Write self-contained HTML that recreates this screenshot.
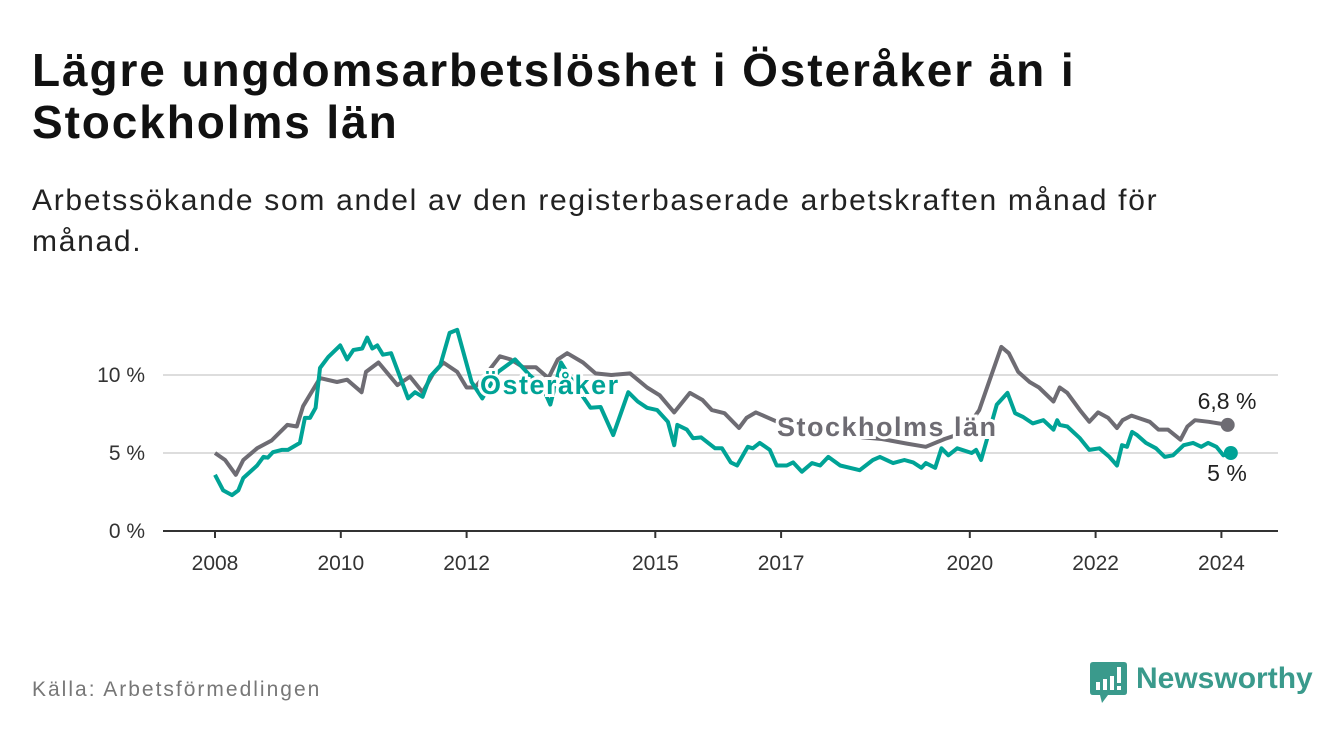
<!DOCTYPE html>
<html><head><meta charset="utf-8"><style>
body{margin:0;width:1340px;height:734px;background:#fff;font-family:"Liberation Sans",sans-serif;overflow:hidden;position:relative}
#title{position:absolute;left:32px;top:44px;font-size:46px;letter-spacing:1.9px;font-weight:bold;line-height:52px;color:#111;width:1300px;white-space:nowrap}
#sub{position:absolute;left:32px;top:180px;font-size:30px;letter-spacing:1.7px;line-height:41px;color:#222;width:1300px;white-space:nowrap}
#src{position:absolute;left:32px;top:678px;font-size:21px;letter-spacing:2px;color:#777}
</style></head><body>
<div id="title">Lägre ungdomsarbetslöshet i Österåker än i<br>Stockholms län</div>
<div id="sub">Arbetssökande som andel av den registerbaserade arbetskraften månad för<br>månad.</div>
<svg id="chart" width="1340" height="734" style="position:absolute;left:0;top:0"></svg>
<div id="src">Källa: Arbetsförmedlingen</div>
<div style="position:absolute;left:1090px;top:662px;height:42px">
<svg width="40" height="44" style="position:absolute;left:0;top:0"><path d="M3 0H34Q37 0 37 3V30Q37 33 34 33H18L12 41L10 33H3Q0 33 0 30V3Q0 0 3 0Z" fill="#3a9a8c"/><rect x="6" y="20" width="4" height="8" fill="#fff"/><rect x="13" y="17" width="4" height="11" fill="#fff"/><rect x="20" y="14" width="4" height="14" fill="#fff"/><rect x="27" y="5" width="4" height="16" fill="#fff"/><rect x="27" y="24" width="4" height="4" fill="#fff"/></svg>
<span style="position:absolute;left:46px;top:0;font-size:30px;font-weight:bold;color:#3a9a8c;white-space:nowrap">Newsworthy</span></div>
<script>
const yTicks=[0,5,10];
const yTickLabels=["0 %","5 %","10 %"];
const xTicks=[2008,2010,2012,2015,2017,2020,2022,2024];
const stoDates=[2008.0,2008.16,2008.33,2008.45,2008.67,2008.9,2009.15,2009.3,2009.4,2009.67,2009.94,2010.1,2010.33,2010.4,2010.6,2010.9,2011.1,2011.3,2011.47,2011.63,2011.85,2012.0,2012.13,2012.3,2012.53,2012.7,2012.9,2013.1,2013.3,2013.45,2013.6,2013.85,2014.05,2014.3,2014.6,2014.87,2015.07,2015.3,2015.55,2015.75,2015.9,2016.1,2016.33,2016.45,2016.6,2016.8,2017.0,2017.3,2017.6,2018.0,2018.3,2018.6,2019.0,2019.3,2019.6,2019.9,2020.15,2020.3,2020.5,2020.62,2020.77,2020.95,2021.1,2021.33,2021.43,2021.55,2021.75,2021.9,2022.04,2022.2,2022.34,2022.43,2022.57,2022.86,2023.0,2023.15,2023.35,2023.46,2023.58,2023.8,2024.1];
const stoVals=[5.0,4.55,3.6,4.55,5.3,5.8,6.8,6.7,8.0,9.8,9.55,9.7,8.9,10.2,10.8,9.35,9.9,8.9,10.1,10.8,10.2,9.2,9.2,10.0,11.2,11.0,10.5,10.5,9.8,11.0,11.4,10.8,10.1,10.0,10.1,9.2,8.7,7.6,8.85,8.4,7.75,7.55,6.6,7.25,7.6,7.25,6.9,6.6,6.4,6.2,6.0,5.9,5.6,5.4,5.9,6.3,7.75,9.5,11.8,11.4,10.2,9.55,9.2,8.3,9.2,8.85,7.75,7.0,7.6,7.25,6.6,7.1,7.4,7.0,6.5,6.5,5.85,6.7,7.1,7.0,6.8];
const ostDates=[2008.0,2008.13,2008.27,2008.37,2008.45,2008.67,2008.77,2008.84,2008.92,2009.06,2009.16,2009.35,2009.43,2009.51,2009.6,2009.67,2009.8,2009.99,2010.1,2010.2,2010.34,2010.42,2010.5,2010.58,2010.67,2010.8,2011.07,2011.18,2011.3,2011.42,2011.58,2011.73,2011.85,2012.08,2012.25,2012.5,2012.77,2013.0,2013.2,2013.33,2013.5,2013.7,2013.97,2014.13,2014.33,2014.57,2014.72,2014.87,2015.03,2015.2,2015.3,2015.35,2015.5,2015.6,2015.73,2015.95,2016.06,2016.2,2016.3,2016.47,2016.55,2016.66,2016.82,2016.93,2017.09,2017.19,2017.33,2017.49,2017.62,2017.75,2017.94,2018.25,2018.46,2018.57,2018.78,2018.96,2019.1,2019.23,2019.3,2019.45,2019.55,2019.66,2019.8,2020.03,2020.1,2020.18,2020.43,2020.6,2020.72,2020.85,2021.0,2021.17,2021.33,2021.39,2021.43,2021.55,2021.75,2021.9,2022.06,2022.22,2022.34,2022.42,2022.5,2022.58,2022.66,2022.8,2022.96,2023.1,2023.23,2023.4,2023.55,2023.68,2023.79,2023.92,2024.03,2024.15];
const ostVals=[3.6,2.6,2.3,2.6,3.4,4.2,4.75,4.7,5.05,5.2,5.2,5.65,7.25,7.25,7.9,10.45,11.15,11.9,11.0,11.6,11.7,12.4,11.7,11.9,11.3,11.4,8.5,8.9,8.6,9.9,10.6,12.7,12.9,9.55,8.5,10.2,11.0,10.0,9.3,8.1,10.8,9.5,7.9,7.95,6.15,8.9,8.3,7.9,7.75,7.0,5.5,6.8,6.5,5.95,6.0,5.3,5.3,4.4,4.2,5.4,5.3,5.65,5.2,4.2,4.2,4.4,3.8,4.35,4.2,4.75,4.2,3.9,4.55,4.75,4.35,4.55,4.4,4.05,4.35,4.05,5.3,4.85,5.3,5.0,5.2,4.55,8.1,8.85,7.55,7.3,6.9,7.1,6.5,7.1,6.8,6.7,5.95,5.2,5.3,4.75,4.2,5.5,5.4,6.35,6.15,5.65,5.3,4.75,4.85,5.5,5.65,5.4,5.65,5.4,4.85,5.0];
const NS="http://www.w3.org/2000/svg",svg=document.getElementById('chart');
const X=d=>215+(d-2008)*62.9, Y=v=>531-v*15.6;
function mk(t,a,p){const e=document.createElementNS(NS,t);for(const k in a)e.setAttribute(k,a[k]);(p||svg).appendChild(e);return e;}
yTicks.forEach((t,i)=>{
 if(t>0){const g=mk('line',{x1:163,x2:1278,y1:Y(t),y2:Y(t),stroke:'#ddd','stroke-width':2});
 
 }
 const l=mk('text',{x:145,y:Y(t)+7,'text-anchor':'end','font-size':21,fill:'#333'});l.textContent=yTickLabels[i];
 
 
});
const ax=mk('line',{x1:163,x2:1278,y1:531,y2:531,stroke:'#333','stroke-width':2});


xTicks.forEach(t=>{
 mk('line',{x1:X(t),x2:X(t),y1:531,y2:538,stroke:'#333','stroke-width':2});
 const l=mk('text',{x:X(t),y:570,'text-anchor':'middle','font-size':21,fill:'#333'});l.textContent=t;
 
 
});
function line(d,v,c,name){const p=mk('path',{d:d.map((x,i)=>(i?'L':'M')+X(x).toFixed(1)+' '+Y(v[i]).toFixed(1)).join(''),fill:'none',stroke:c,'stroke-width':4,'stroke-linejoin':'round'});
 
 
 const n=d.length-1;const c2=mk('circle',{cx:X(d[n]),cy:Y(v[n]),r:7,fill:c});
 
 }
line(stoDates,stoVals,'#6e6c73','stockholm-line');
line(ostDates,ostVals,'#00a396','osteraker-line');
function lab(x,y,t,c,n,s,bold,anchor){const e=mk('text',{x:x,y:y,'font-size':s,'font-weight':bold?'bold':'normal',fill:c,'text-anchor':anchor||'start',stroke:'#fff','stroke-width':bold?6:0,'paint-order':'stroke','letter-spacing':bold?1.5:0});e.textContent=t;
 
 }
lab(480,394,'Österåker','#00a396','osteraker-label',27,true);
lab(777,436,'Stockholms län','#6e6c73','stockholm-label',27,true);
lab(1227,409,'6,8 %','#222','stockholm-end-value',23,false,'middle');
lab(1227,481,'5 %','#222','osteraker-end-value',23,false,'middle');
</script>
</body></html>
